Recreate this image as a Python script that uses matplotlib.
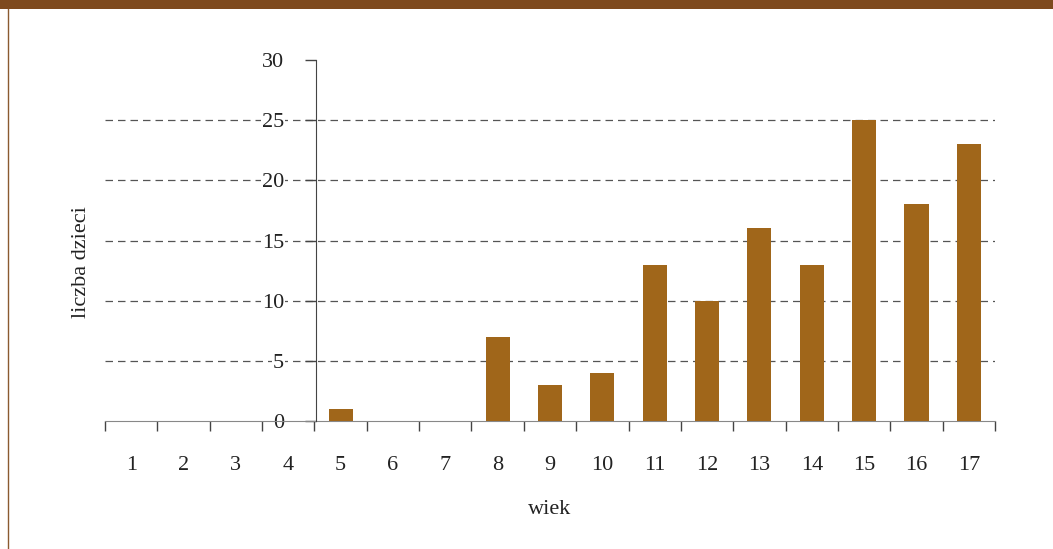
import matplotlib.pyplot as plt
from matplotlib.lines import Line2D
from matplotlib.patches import Rectangle

ages = [str(a) for a in range(1, 18)]
counts = [0, 0, 0, 0, 1, 0, 0, 7, 3, 4, 13, 10, 16, 13, 25, 18, 23]
y_ticks = [0, 5, 10, 15, 20, 25, 30]

plt.rcParams['font.family'] = ['Liberation Serif', 'DejaVu Serif']

fig = plt.figure(figsize=(10.53, 5.49), dpi=100)
ax = fig.add_axes([105 / 1053, 1 - 421 / 549, 890 / 1053, 361 / 549])

# frame decoration
fig.add_artist(Rectangle((0, 1 - 9 / 549), 1, 9 / 549, transform=fig.transFigure,
                         color='#7E4A1E', lw=0))
fig.add_artist(Line2D([7.5 / 1053, 7.5 / 1053], [0, 1 - 9 / 549], transform=fig.transFigure,
                      color='#8A5A30', lw=1))

x = range(len(ages))
ax.bar(x, counts, width=0.46, color='#A0661A', zorder=3)

ax.set_xlim(-0.5, len(ages) - 0.5)
ax.set_ylim(0, 30)

for v in y_ticks[1:-1]:
    ax.axhline(v, color='#555555', lw=0.9, ls=(0, (6, 4)), zorder=1)

for s in ['top', 'right']:
    ax.spines[s].set_visible(False)
ax.spines['left'].set_position(('data', 3.53))
ax.spines['left'].set_color('#444444')
ax.spines['bottom'].set_color('#888888')
ax.spines['left'].set_zorder(4)

ax.set_yticks(y_ticks)
ax.tick_params(axis='y', direction='out', length=8, width=1, color='#444444',
               pad=15, labelsize=16, labelcolor='#222222')
for lbl in ax.get_yticklabels():
    lbl.set_bbox(dict(facecolor='white', edgecolor='none', pad=0.5))
    lbl.set_zorder(5)

ax.set_xticks(list(x))
ax.set_xticklabels(ages)
ax.tick_params(axis='x', which='major', length=0, pad=25, labelsize=16, labelcolor='#222222')
ax.set_xticks([i - 0.5 for i in range(len(ages) + 1)], minor=True)
ax.tick_params(axis='x', which='minor', direction='out', length=7, width=1, color='#444444')

ax.set_xlabel('wiek', fontsize=16, color='#222222', labelpad=18)
fig.text(82 / 1053, 1 - 262 / 549, 'liczba dzieci', rotation=90, ha='center', va='center',
         fontsize=16, color='#222222')

fig.savefig('out.png', dpi=100)
